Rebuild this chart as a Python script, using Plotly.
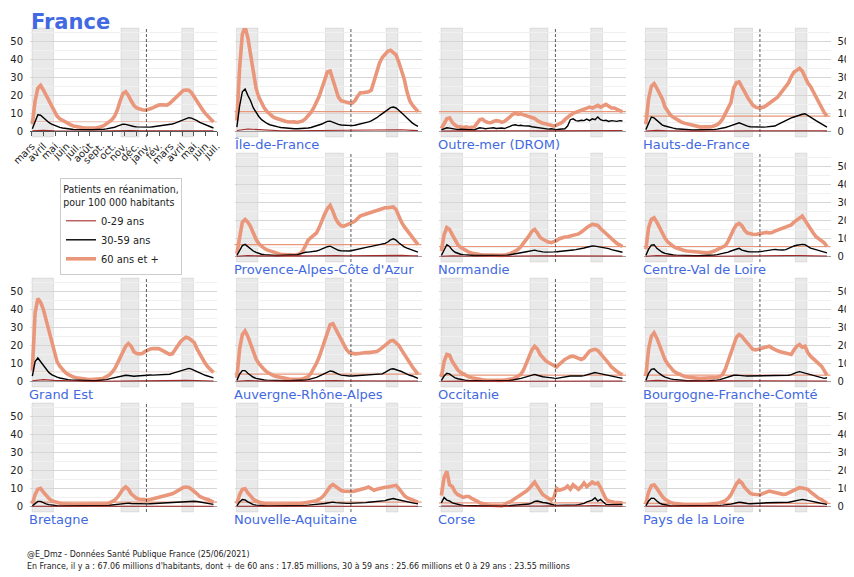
import plotly.graph_objects as go
import pandas as pd

# ---------------- data ----------------
DATES = pd.date_range("2020-03-18", periods=67, freq="7D")          # weekly samples
IDX_029 = list(range(0, 65, 4)) + [66]
DATES_029 = [DATES[i] for i in IDX_029]                                # 0-29 sampled every 4 weeks

MONTH_LABELS = ["mars", "avril", "mai", "juin", "juil.", "août", "sept.", "oct.", "nov.",
                "déc.", "janv.", "fév.", "mars", "avril", "mai", "juin", "juil."]
Y_TICKS = [0, 10, 20, 30, 40, 50]
LOCKDOWNS = [("2020-03-17", "2020-05-11"), ("2020-10-30", "2020-12-15"), ("2021-04-03", "2021-05-03")]
MARKER_DATE = "2021-01-03"

FRANCE_60 = [4,17,24,25.5,23,20,16.5,14,11,8.5, 7,6,5,4.2,3.6,3,2.6,2.3,2.1,2, 1.9,1.8,1.8,1.9,2.1,2.5,3.2,4.2,5.3,6.5,
             8.5,12,17,21,22,20,17,14.5,13,12.3, 12,11.8,12,12.6,13.2,14,14.6,14.8,14.5,14.6,
             15.5,17,18.5,20,21.5,22.7,23,22.8,21.5,19, 16.5,14,12,10,8.5,6.8,5.2]
FRANCE_30 = [1.5,6,9.2,9,7.5,6.3,5,4,3.3,2.7, 2.2,1.9,1.6,1.4,1.2,1.1,1,0.9,0.9,0.9, 0.9,0.9,0.9,0.9,1,1.1,1.2,1.4,1.6,1.9,
             2.3,2.9,3.5,4,3.9,3.4,3,2.7,2.5,2.4, 2.3,2.2,2.3,2.4,2.6,2.8,3,3.1,3.2,3.4,
             3.7,4.1,4.6,5.2,5.9,6.8,7.4,7.6,7.4,6.8, 6,5,4.3,3.6,3,2.4,1.9]
FRANCE_0 = [0.3,0.6,0.4,0.25,0.15,0.15,0.2,0.3,0.5,0.45,0.4,0.4,0.5,0.6,0.65,0.5,0.35,0.3]

IDF_60 = [6,35,54,58,52,42,32,24,19,15.5, 13,11,9.5,8.3,7.4,6.8,6.2,5.8,5.5,5.2, 5.5,5.3,5,5.2,5.8,7,8.5,10.5,13,16,
          19.5,24,29,33,33.5,29,23,19,17,16.5, 16,15.8,15.7,17,19.5,21.5,21.5,21.8,22,23,
          28,33,38,41,43,44.5,45,44,42.5,38.5, 34,29,22,17,14.5,12.5,11]
IDF_30 = [2.4,14,22,23.5,20,17,13,10.5,8.3,6.5, 5.3,4.4,3.7,3.2,2.8,2.5,2.2,2,1.8,1.6, 1.5,1.5,1.5,1.5,1.6,1.7,1.9,2.2,2.6,3,
          3.5,4.1,4.9,5.6,5.7,5,4.3,3.9,3.6,3.4, 3.2,3.1,3.2,3.4,3.7,4.1,4.5,4.9,5.3,5.8,
          6.6,7.6,8.8,10,11.3,12.3,13.2,13.5,13,11.7, 10.5,9,7.5,5.8,4.6,3.6,2.8]
IDF_0 = [0.5,1.3,1.0,0.6,0.4,0.35,0.4,0.6,0.9,0.8,0.7,0.7,0.8,1.0,1.1,0.9,0.6,0.5]

DROM_60 = [1.5,4,7,7.5,5,3.5,2.5,2.5,2.2,2.5, 2,2.3,2.5,4.5,6.5,6.8,5.5,5,4.8,5.5, 6,5.8,5,5.5,6.5,8,9.5,10,9.5,9.8,
           9.2,8.8,8.5,8,7.2,6,5,4.5,4.2,3.8, 3.3,3,3.5,4,5,6.5,8,9,10,10.5,
           11,11.5,12,13,13.5,13,14,14.5,13.5,14.5, 15,14,13,13,12,11.5,11]
DROM_30 = [0.8,1.5,2,1.8,1.5,1.2,1,1.2,1,0.8, 0.9,1,0.8,1.5,2,1.8,1.5,1.7,1.9,2, 1.6,1.8,1.9,1.6,2,2.8,3.5,3.7,3.2,3.4,
           3.1,3.2,3,2.6,2.4,2.2,2,1.6,1.5,1.3, 1.5,1.1,1,1.2,1.2,1.5,3,6.5,7,6,
           5.8,6.2,6,6.8,6,7,6.5,8,6.5,6, 6.2,5.5,6,5.8,5.6,6,5.8]
DROM_0 = [0.2,0.4,0.3,0.3,0.4,0.4,0.5,0.5,0.4,0.3,0.3,0.4,0.6,0.7,0.7,0.6,0.6,0.5]

HDF_60 = [4,18,25,26.5,24,21,18,13.5,11,9, 7.8,6.8,6,5.2,4.6,4.2,3.8,3.3,2.8,2.5, 2.4,2.6,2.8,2.5,2.6,3,3.8,5,7,10,
          13.5,16,24,27,27.5,25,22,19,16.5,14.5, 13.5,13,13.2,13.5,14.5,15.5,16.5,17.5,19,21,
          23,24.5,27,30.5,33,34,35,33.5,30,27, 25,22,18.5,15.5,13,10.5,8.5]
HDF_30 = [1,5,8,7.5,6,4.5,3.5,3,2.5,2.1, 1.8,1.5,1.3,1.1,1,0.9,0.9,0.8,0.8,0.8, 0.8,0.8,0.9,0.9,1,1.1,1.3,1.5,1.8,2.2,
          2.7,3.2,4,4.6,4.8,4.2,3.4,2.9,2.6,2.5, 2.4,2.4,2.3,2.4,2.5,2.6,2.8,3,3.8,4.6,
          5.2,6,6.7,7.5,8,8.5,9.3,9.5,9.8,9, 8,7,6,5,4,3.2,2.4]
HDF_0 = [0.2,0.6,0.4,0.2,0.15,0.15,0.2,0.3,0.5,0.4,0.35,0.35,0.4,0.6,0.7,0.6,0.4,0.3]

PACA_60 = [1.5,12,19,20.5,19,16.5,12.5,9.5,7,5.6, 4.5,3.6,3,2.4,1.8,1.4,1.1,1,0.8,0.7, 0.7,0.7,1,1.5,3,6.5,9,10.5,11.5,13,
           16,20,23.5,26.5,28.3,25,21,18.5,17,16.8, 17.5,18.2,18.7,19.5,21,22.5,23,23.5,24.5,25,
           25.5,25.5,26,26.5,27,27,27.5,27.5,26,22, 19,16.5,14.5,12.5,11,9,6.5]
PACA_30 = [0.5,3.5,6,6.7,5.5,4,3,2.2,1.6,1.2, 1,0.8,0.7,0.6,0.5,0.5,0.5,0.5,0.5,0.5, 0.5,0.6,0.9,1.4,2,2.3,2.4,2.5,2.8,3,
           3.5,4.2,5,5.4,5.7,4.8,3.9,3.4,3.1,3, 2.9,3,3.3,3.7,4.1,4.4,4.7,5,5.3,5.6,
           5.9,6.2,6.5,6.8,7.2,8,9.2,9.8,9,7.6, 6.2,5.3,4.6,4,3.4,2.9,2.4]
PACA_0 = [0.1,0.5,0.3,0.2,0.1,0.1,0.3,0.4,0.6,0.5,0.4,0.5,0.5,0.6,0.7,0.6,0.4,0.3]

NORM_60 = [3,12,16,15,12,9,6.5,5,4,3, 2.4,1.9,1.5,1.2,1.1,0.9,0.8,0.7,0.6,0.6, 0.6,0.6,0.6,0.7,1,1.5,2.2,3,4,5.5,
           7.5,9,11.5,14,15,13,10.5,9.5,8.5,8, 7.6,8,8.8,9.8,10.5,10.8,10.9,11.2,11.5,11.8,
           12.5,13.5,15,16,17,17.8,17.5,17.2,15.5,14, 12.3,11,9.5,8.5,7.2,6.3,5.5]
NORM_30 = [0.5,4,6.5,5.5,3.5,2.3,1.6,1.2,1,0.8, 0.7,0.6,0.5,0.5,0.5,0.4,0.4,0.4,0.4,0.4, 0.4,0.4,0.5,0.6,0.7,0.9,1.1,1.4,1.7,2,
           2.3,2.6,3,3.4,3.5,3.1,2.7,2.5,2.4,2.3, 2.4,2.5,2.6,2.7,2.8,3,3.2,3.4,3.6,3.8,
           4,4.3,4.7,5.1,5.5,5.8,5.7,5.5,5.2,4.9, 4.7,4.3,3.8,3.4,3,2.7,2.3]
NORM_0 = [0.1,0.4,0.2,0.1,0.1,0.1,0.1,0.2,0.4,0.3,0.3,0.3,0.4,0.5,0.5,0.4,0.3,0.2]

CVL_60 = [4,16,20.5,21.5,19,16,12.5,10,8,6.5, 5.5,4.8,4.2,3.7,3.3,3,2.8,2.5,2.3,2.2, 2,2,2,2.1,2.4,3,3.8,4.5,5.2,6,
          8.5,12,15,17.5,18.3,17,14.5,13,12.5,12.3, 12.2,12.5,13,13.5,13.3,13,13.2,14,14.5,15,
          15.5,16,16.5,17.5,19,20,21.5,22.4,20,17.5, 15,13,11,10,9,7.5,5.5]
CVL_30 = [0.5,4,6.3,6.5,4.5,3.2,2.3,1.7,1.3,1, 0.8,0.7,0.6,0.5,0.5,0.5,0.5,0.4,0.4,0.4, 0.4,0.5,0.5,0.5,0.6,0.8,1,1.3,1.6,1.9,
          2.4,3,3.6,4.2,4.5,3.5,3,2.7,2.5,2.4, 2.5,2.6,2.7,3,3.3,3.5,3.7,3.9,3.7,3.5,
          3.6,3.8,4.5,5.3,5.8,6.2,6.5,6.7,6.5,5.5, 4.6,4.2,3.7,3.2,2.8,2.4,2]
CVL_0 = [0.1,0.5,0.3,0.1,0.1,0.1,0.1,0.2,0.4,0.3,0.3,0.3,0.4,0.5,0.5,0.4,0.3,0.2]

GE_60 = [6,38,46,44,40,34,28,21,15,11, 8.5,6.5,5,3.9,3,2.4,2,1.7,1.5,1.3, 1.2,1.1,1.1,1.1,1.2,1.4,1.8,2.5,3.5,5,
         7,10,13,16.5,19.5,21,19.5,16.5,15.5,15.3, 15.5,16.5,17.5,18,18.3,18.5,18.2,17.5,16.5,15.5,
         15,15.3,17.5,20,22,23.5,24.5,24,23,21.5, 18,15,12.5,10,8,6.3,5]
GE_30 = [3,11,13,11,9,7,5,3.8,3,2.4, 1.9,1.5,1.2,1,0.8,0.7,0.6,0.5,0.5,0.4, 0.4,0.4,0.4,0.4,0.5,0.6,0.8,1,1.4,1.8,
         2.2,2.6,3,3.2,3.4,3.3,3,2.9,3,3.2, 3.3,3.5,3.8,3.6,3.5,3.6,3.5,3.6,3.7,3.9,
         4,4.5,5,5.5,6,6.6,7,7.2,6.8,6, 5.4,4.7,4,3.4,3,2.5,2]
GE_0 = [0.4,1.0,0.6,0.3,0.2,0.1,0.1,0.2,0.4,0.5,0.4,0.4,0.4,0.5,0.6,0.5,0.3,0.2]

ARA_60 = [2,18,26,28,25,21,16,12.5,10,8, 6.5,5.2,4.2,3.5,2.9,2.5,2.1,1.8,1.5,1.3, 1.2,1.1,1.1,1.2,1.4,1.8,2.6,4.5,7,10,
          13.5,18,24,28.5,31.5,32,29,26,22.5,19.5, 17.5,16,15.5,15.3,15.4,15.7,15.9,16,16,16.2,
          16.4,16.6,17.5,18.8,20,21.8,22.5,22.8,21.5,20, 17.5,15,12.5,10,8,6,4]
ARA_30 = [0.5,4,6,6,4.5,3.2,2.3,1.7,1.3,1, 0.8,0.7,0.6,0.5,0.5,0.4,0.4,0.4,0.4,0.4, 0.4,0.4,0.4,0.5,0.6,0.8,1,1.3,1.7,2.2,
          2.9,3.7,4.5,5.3,5.8,5.5,4.6,4,3.5,3.2, 3.1,3,3,3.1,3.2,3.3,3.3,3.3,3.4,3.5,
          3.6,3.7,3.9,4.2,5,6,6.8,7,6.6,6, 5.5,4.8,4,3.4,3,2.3,1.7]
ARA_0 = [0.1,0.5,0.3,0.2,0.1,0.1,0.1,0.3,0.6,0.5,0.4,0.4,0.4,0.5,0.6,0.5,0.3,0.2]

OCC_60 = [2.4,11,15,14.5,11,8.5,6.3,5,4,3.2, 2.5,2,1.6,1.3,1.1,0.9,0.8,0.7,0.6,0.6, 0.6,0.6,0.6,0.7,0.8,1,1.5,2,2.8,4,
          6.5,10,14,17.5,19.5,18,15,13,11.5,10.5, 9.5,8.8,8,9.5,11,12.2,13,13.8,14,13.5,
          12.8,12.2,13,15,16.8,17.5,17.8,17.2,15.5,14, 12,10,8,6.5,5.5,4.5,3.5]
OCC_30 = [0.5,3,4.5,4.2,3,2,1.5,1.1,0.8,0.6, 0.5,0.4,0.4,0.3,0.3,0.3,0.3,0.3,0.3,0.3, 0.3,0.3,0.3,0.4,0.5,0.6,0.8,1,1.3,1.7,
          2.1,2.6,3.1,3.6,3.9,3.4,2.9,2.6,2.4,2.1, 1.9,1.8,1.7,2,2.3,2.6,2.8,3,3,2.9,
          2.9,3,3.2,3.6,4.1,4.6,4.9,4.6,4.3,3.8, 3.4,3,2.8,2.4,2.1,1.9,1.7]
OCC_0 = [0.1,0.3,0.2,0.1,0.1,0.1,0.1,0.2,0.4,0.3,0.3,0.3,0.3,0.4,0.5,0.4,0.3,0.2]

BFC_60 = [3,18,25,27,24,20,16,12,9.5,7.5, 6,4.8,4,3.3,2.8,2.4,2.1,1.9,1.8,1.7, 1.7,1.7,1.7,1.7,1.7,1.8,2.2,2.8,3.9,7,
          11.5,16.5,21,24.5,26,25,23,21,19,17.8, 17.5,18,18.5,18.5,19,19.5,18.5,17.5,17,16.5,
          16,16,15.5,15,17.5,19.5,20.5,19,19.5,16, 14,12.5,11,10,8.5,6,3.5]
BFC_30 = [0.5,4.5,6.7,7,5.5,4.2,3.2,2.4,1.8,1.4, 1.1,0.9,0.7,0.6,0.5,0.4,0.4,0.3,0.3,0.3, 0.3,0.3,0.3,0.3,0.4,0.5,0.7,1,1.5,2.2,
          2.8,3.2,3.4,3.5,3.5,3.3,3.1,3,3,3, 3.1,3.2,3.3,3.3,3.2,3.1,3,3,3.1,3.2,
          3.3,3.3,3.4,3.8,4.5,5,5.4,5,4.4,3.9, 3.5,3.3,3,2.6,2.1,1.7,2]
BFC_0 = [0.2,0.6,0.3,0.2,0.1,0.1,0.1,0.3,0.5,0.4,0.4,0.4,0.4,0.5,0.5,0.4,0.3,0.2]

BRE_60 = [1.5,6.5,9.5,10,8,6,4.5,3.2,2.6,2.1, 1.8,1.5,1.3,1.2,1.1,1.1,1.1,1.1,1.1,1.1, 1.1,1.1,1.1,1.1,1.2,1.3,1.4,1.5,1.8,2.5,
          3.5,5,7.5,9.5,10.8,9.5,7,5.5,4.5,4, 3.8,3.6,3.6,3.8,4.2,4.6,4.8,5.2,5.5,5.8,
          6.3,7,7.8,8.8,9.8,10.5,10.8,10.5,9.5,8.5, 7,5.5,4.7,4.2,3.8,3.3,2.4]
BRE_30 = [0.3,1.8,2.8,2.8,2,1.4,1,0.7,0.5,0.4, 0.3,0.3,0.3,0.2,0.2,0.2,0.2,0.2,0.2,0.2, 0.2,0.2,0.2,0.2,0.3,0.3,0.4,0.5,0.6,0.8,
          1,1.2,1.5,1.8,2,1.8,1.6,1.5,1.4,1.4, 1.5,1.5,1.4,1.5,1.6,1.7,1.7,1.8,1.9,2,
          2.1,2.3,2.4,2.6,2.8,2.9,3,3.1,3,2.9, 2.7,2.5,2.3,2.1,1.9,1.5,1.1]
BRE_0 = [0.1,0.2,0.1,0.1,0.05,0.05,0.05,0.1,0.2,0.2,0.2,0.2,0.2,0.3,0.3,0.2,0.2,0.1]

NA_60 = [1.5,6.5,9.5,9.8,7.5,5.5,4,3,2.3,1.9, 1.6,1.4,1.3,1.2,1.2,1.2,1.2,1.2,1.2,1.2, 1.2,1.3,1.4,1.6,1.8,2,2.2,2.5,2.8,3.2,
         4,5,6.7,9,11,12.2,11,9.5,8.8,8.5, 8.3,8.2,8.3,8.5,8.8,9.2,9.6,10.2,10.8,10,
         9,9.5,10,10.4,10.6,10.8,11,11.3,11.7,10, 7.8,6,4.8,4.2,3.6,3,2.4]
NA_30 = [0.3,2.5,3.8,3.6,2.5,1.6,1,0.7,0.5,0.4, 0.3,0.3,0.3,0.3,0.2,0.2,0.2,0.2,0.2,0.2, 0.2,0.3,0.3,0.4,0.5,0.6,0.7,0.8,0.9,1,
         1.2,1.4,1.6,1.9,2.2,2.4,2.1,1.9,1.8,1.7, 1.7,1.7,1.7,1.8,1.9,1.9,2,2.1,2.3,2.4,
         2.5,2.6,2.7,2.9,3.2,3.7,4.2,4.4,4,3.6, 3.2,2.9,2.6,2.3,2,1.7,1.5]
NA_0 = [0.1,0.2,0.1,0.1,0.05,0.05,0.1,0.1,0.2,0.2,0.2,0.2,0.2,0.3,0.3,0.3,0.2,0.1]

COR_60 = [6,16,19.5,12,11,8,6.5,5.7,5,5.5, 5.5,4.5,4,3,2,1.5,1.2,0.8,0.6,0.4, 0.2,0.2,0.3,0.8,2,2.5,3.5,4,5,6,
          7.5,8.5,10,12,13.5,11,8.5,6.5,5.5,4.5, 3.5,5,10,9,9.5,10,11.3,9.5,12,11,
          9.5,11,13,11,12,13.5,12.5,13,10.5,7, 4,3,2.5,2.3,2.2,2,2]
COR_30 = [2,5,3.5,3,2,1.5,1,0.8,0.6,0.5, 0.5,0.4,0.3,0.2,0.2,0.2,0.2,0.2,0.1,0.1, 0.1,0.1,0.1,0.2,0.3,0.4,0.5,0.6,0.7,0.8,
          0.9,1,1.3,2,2.8,3,2.5,2.2,2,1.5, 1,0.8,0.6,0.6,0.5,0.6,0.6,0.7,0.6,0.8,
          1,1.3,1.7,2.5,3,3.5,4.8,3,3.9,2.5, 1.1,1,1.1,1,1.1,1.1,1.1]
COR_0 = [0.2,0.4,0.2,0.1,0.0,0.0,0.0,0.2,0.4,0.2,0.3,0.2,0.3,0.4,0.5,0.3,0.2,0.1]

PDL_60 = [1.7,8,11.5,12,10,7.5,5.5,4,3,2.2, 1.8,1.5,1.3,1.2,1.1,1.1,1,1,1,1, 1,1,1,1.1,1.2,1.4,1.7,2.1,2.6,3.2,
          4.5,6.5,9.5,12.5,14.3,13,10.5,8.5,7.3,6.7, 6.5,6.5,6.8,7.3,8,8.5,8.2,7.7,7.2,7,
          6.7,6.8,7.5,8.5,9.4,10,10.4,10.2,9.8,9.5, 8,6.8,5.5,4.5,3.8,2.8,1.7]
PDL_30 = [0.3,3,4.6,4.5,3,1.8,1.2,0.8,0.5,0.4, 0.3,0.3,0.2,0.2,0.2,0.2,0.2,0.2,0.2,0.2, 0.2,0.2,0.2,0.2,0.3,0.4,0.5,0.6,0.7,0.8,
          1,1.3,1.6,2,2.4,2.2,1.8,1.6,1.5,1.5, 1.6,1.7,1.8,1.9,2,2,2,2,2,2,
          2,2.1,2.3,2.6,3,3.4,3.7,3.9,3.6,3.2, 2.8,2.6,2.3,2,1.7,1.4,1.1]
PDL_0 = [0.1,0.3,0.2,0.1,0.05,0.05,0.1,0.1,0.2,0.2,0.2,0.2,0.2,0.3,0.3,0.3,0.2,0.1]

# (name, grid row, grid col, 60+, 30-59, 0-29)
PANELS = [
    ("France", 0, 0, FRANCE_60, FRANCE_30, FRANCE_0),
    ("Île-de-France", 0, 1, IDF_60, IDF_30, IDF_0),
    ("Outre-mer (DROM)", 0, 2, DROM_60, DROM_30, DROM_0),
    ("Hauts-de-France", 0, 3, HDF_60, HDF_30, HDF_0),
    ("Provence-Alpes-Côte d'Azur", 1, 1, PACA_60, PACA_30, PACA_0),
    ("Normandie", 1, 2, NORM_60, NORM_30, NORM_0),
    ("Centre-Val de Loire", 1, 3, CVL_60, CVL_30, CVL_0),
    ("Grand Est", 2, 0, GE_60, GE_30, GE_0),
    ("Auvergne-Rhône-Alpes", 2, 1, ARA_60, ARA_30, ARA_0),
    ("Occitanie", 2, 2, OCC_60, OCC_30, OCC_0),
    ("Bourgogne-Franche-Comté", 2, 3, BFC_60, BFC_30, BFC_0),
    ("Bretagne", 3, 0, BRE_60, BRE_30, BRE_0),
    ("Nouvelle-Aquitaine", 3, 1, NA_60, NA_30, NA_0),
    ("Corse", 3, 2, COR_60, COR_30, COR_0),
    ("Pays de la Loire", 3, 3, PDL_60, PDL_30, PDL_0),
]
for p in PANELS:
    assert len(p[3]) == len(DATES) and len(p[4]) == len(DATES) and len(p[5]) == len(DATES_029), p[0]

# ---------------- layout / style ----------------
PAGE_OFF = 8                      # default body margin of the html page
W, H = 854 - PAGE_OFF, 577 - PAGE_OFF


def px_x(px):
    return (px - PAGE_OFF) / W


def px_y(py):
    return 1 - (py - PAGE_OFF) / H


COL_LEFT = [30, 234.5, 439, 643.5]
PANEL_W = 187
ROW_TOP = [28, 153, 278, 403]
PANEL_H = 109
X_RANGE = ["2020-03-12", "2021-07-02"]
Y_RANGE = [-3.1, 57.4]
SALMON = "#E9967A"
DARKRED = "#A52A2A"
BLUE = "#4169E1"
FONT = "DejaVu Sans"
COND = "DejaVu Sans Condensed, Liberation Sans Narrow, DejaVu Sans"

tick_start = pd.Timestamp("2020-03-17")
TICK_POS = [tick_start + pd.Timedelta(days=29.5 * i) for i in range(len(MONTH_LABELS))]

fig = go.Figure()
layout = dict(
    width=W, height=H, margin=dict(l=0, r=0, t=0, b=0, autoexpand=False),
    paper_bgcolor="white", plot_bgcolor="white",
    font=dict(family=FONT, size=10, color="#222"),
    showlegend=True,
    legend=dict(
        x=px_x(121), xanchor="center", y=px_y(178), yanchor="top",
        bgcolor="white", bordercolor="#cccccc", borderwidth=1,
        font=dict(family=COND, size=11, color="#222"),
        title=dict(text="Patients en réanimation,<br>pour 100 000 habitants", side="top center",
                   font=dict(family=COND, size=10.5, color="#222")),
        tracegroupgap=0, itemwidth=30,
    ),
)
shapes, annotations = [], []

for idx, (name, r, c, s60, s30, s0) in enumerate(PANELS):
    i = idx + 1
    xa = "x" if i == 1 else f"x{i}"
    ya = "y" if i == 1 else f"y{i}"
    first = (i == 1)
    fig.add_trace(go.Scatter(x=DATES, y=s60, xaxis=xa, yaxis=ya, mode="lines",
                             line=dict(color=SALMON, width=3.6), name="60 ans et +",
                             legendrank=3, showlegend=first, hoverinfo="skip"))
    fig.add_trace(go.Scatter(x=DATES, y=s30, xaxis=xa, yaxis=ya, mode="lines",
                             line=dict(color="black", width=1.4), name="30-59 ans",
                             legendrank=2, showlegend=first, hoverinfo="skip"))
    fig.add_trace(go.Scatter(x=DATES_029, y=s0, xaxis=xa, yaxis=ya, mode="lines",
                             line=dict(color=DARKRED, width=1.1), name="0-29 ans",
                             legendrank=1, showlegend=first, hoverinfo="skip"))

    x0 = px_x(COL_LEFT[c])
    x1 = px_x(COL_LEFT[c] + PANEL_W)
    y1 = px_y(ROW_TOP[r])
    y0 = px_y(ROW_TOP[r] + PANEL_H)
    xkey = "xaxis" if i == 1 else f"xaxis{i}"
    ykey = "yaxis" if i == 1 else f"yaxis{i}"

    xax = dict(domain=[x0, x1], range=X_RANGE, type="date", anchor=ya, showgrid=False,
               zeroline=False, showticklabels=False, ticks="", showline=False, fixedrange=True,
               automargin=False)
    if first:
        zero_px = ROW_TOP[r] + PANEL_H * (Y_RANGE[1] - 0) / (Y_RANGE[1] - Y_RANGE[0])
        xax.update(anchor="free", position=px_y(zero_px), showline=True, linecolor="#555",
                   linewidth=1, ticks="outside", ticklen=4, tickcolor="#555",
                   tickvals=TICK_POS, ticktext=MONTH_LABELS, tickangle=-45,
                   showticklabels=True, tickfont=dict(size=10, color="#222"))
    layout[xkey] = xax
    layout[ykey] = dict(domain=[y0, y1], range=Y_RANGE, anchor=xa, tickvals=Y_TICKS,
                        showgrid=True, gridcolor="#d6d6d6", gridwidth=1,
                        minor=dict(dtick=5, tick0=0, showgrid=True, gridcolor="#f0f0f0", gridwidth=1),
                        zeroline=True, zerolinecolor="#a0a0a0", zerolinewidth=1,
                        showticklabels=(c in (0, 3)), side="right" if c == 3 else "left",
                        ticks="", ticklabelstandoff=6, showline=False, fixedrange=True,
                        automargin=False, tickfont=dict(size=10, color="#222"))

    for a, b in LOCKDOWNS:
        shapes.append(dict(type="rect", xref=xa, yref=f"{ya} domain", x0=a, x1=b, y0=0, y1=1,
                           fillcolor="rgba(0,0,0,0.085)", line=dict(width=0.8, color="rgba(0,0,0,0.10)"),
                           layer="below"))
    shapes.append(dict(type="line", xref=xa, yref=f"{ya} domain", x0=MARKER_DATE, x1=MARKER_DATE,
                       y0=0, y1=1, line=dict(color="#333", width=0.8, dash="3px,2px"), layer="above"))
    shapes.append(dict(type="line", xref=f"{xa} domain", yref=ya, x0=0, x1=1, y0=s60[-1], y1=s60[-1],
                       line=dict(color=SALMON, width=1.2), layer="below"))

    if first:
        annotations.append(dict(text="<b>France</b>", x=px_x(COL_LEFT[c] - 1), y=1.0, xref="paper",
                                yref="paper", xanchor="left", yanchor="top", showarrow=False,
                                font=dict(family=FONT, size=21, color=BLUE)))
    else:
        annotations.append(dict(text=name, x=px_x(COL_LEFT[c] - 3),
                                y=px_y(ROW_TOP[r] + PANEL_H + 7), xref="paper", yref="paper",
                                xanchor="left", yanchor="middle", showarrow=False,
                                font=dict(family=FONT, size=13, color=BLUE)))

annotations.append(dict(text="@E_Dmz - Données Santé Publique France (25/06/2021)",
                        x=px_x(25), y=px_y(554), xref="paper", yref="paper", xanchor="left",
                        yanchor="middle", showarrow=False,
                        font=dict(family=COND, size=8.8, color="#222")))
annotations.append(dict(text="En France, il y a : 67.06 millions d'habitants, dont + de 60 ans : 17.85 millions, "
                             "30 à 59 ans : 25.66 millions et 0 à 29 ans : 23.55 millions",
                        x=px_x(25), y=px_y(566), xref="paper", yref="paper", xanchor="left",
                        yanchor="middle", showarrow=False,
                        font=dict(family=COND, size=8.8, color="#222")))

layout["shapes"] = shapes
layout["annotations"] = annotations
fig.update_layout(**layout)
fig.write_html("out.html")
